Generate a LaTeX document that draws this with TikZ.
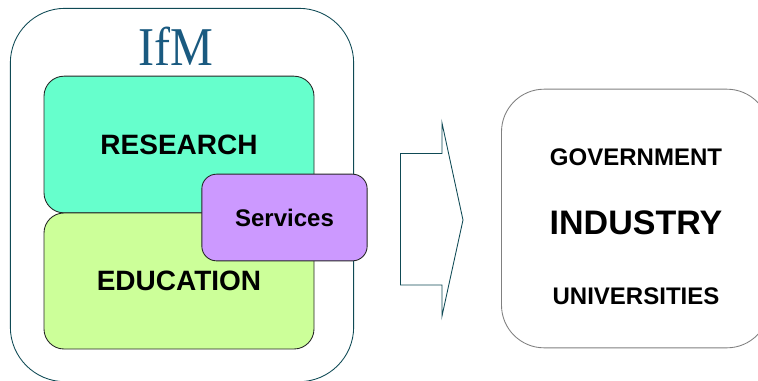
\documentclass[tikz,border=0pt]{standalone}
\usepackage{fontspec}
\setmainfont{Liberation Sans}
\newfontfamily\logofont{Liberation Serif}
\definecolor{outerline}{HTML}{0F4A55}
\definecolor{logoblue}{HTML}{1A5A80}
\definecolor{researchfill}{HTML}{66FFCC}
\definecolor{educationfill}{HTML}{CCFF99}
\definecolor{servicesfill}{HTML}{CC99FF}
\begin{document}
\begin{tikzpicture}[x=0.75pt,y=-0.75pt,line width=0.65pt]
\tikzset{area/.style={draw=black!85,rectangle,rounded corners=15pt,minimum width=202.5pt,font=\bfseries\fontsize{21}{25}\selectfont,inner sep=0pt}}
\tikzset{audience/.style={font=\bfseries\fontsize{18}{22}\selectfont,inner sep=0pt}}
\clip[use as bounding box](0,0) rectangle (758,380);
\node[draw=outerline,rectangle,rounded corners=41pt,minimum width=257.5pt,minimum height=280pt,inner sep=0pt](ifm) at (182,195){};
\node[text=logoblue,font=\logofont\fontsize{41}{44}\selectfont,xscale=0.88,inner sep=0pt](logo) at (175.5,46.5){IfM};
\node[area,fill=researchfill,minimum height=102.5pt](research) at (179,144.5){RESEARCH};
\node[area,fill=educationfill,minimum height=102pt](education) at (179,281){EDUCATION};
\node[area,fill=servicesfill,rounded corners=11pt,minimum width=124pt,minimum height=65pt,font=\bfseries\fontsize{18}{22}\selectfont](services) at (284.5,217.5){Services};
\draw[draw=outerline](400.5,153.5) -- (442,153.5) -- (442,123) -- (463,220) -- (442,316) -- (442,285) -- (400.5,285) -- cycle;
\node[draw=black!50,rectangle,rounded corners=32pt,minimum width=201pt,minimum height=194pt,inner sep=0pt](users) at (635.5,218.5){};
\node[audience](government) at (636,157){GOVERNMENT};
\node[audience,font=\bfseries\fontsize{25.5}{30}\selectfont](industry) at (636,222.5){INDUSTRY};
\node[audience](universities) at (636,296.5){UNIVERSITIES};
\end{tikzpicture}
\end{document}
